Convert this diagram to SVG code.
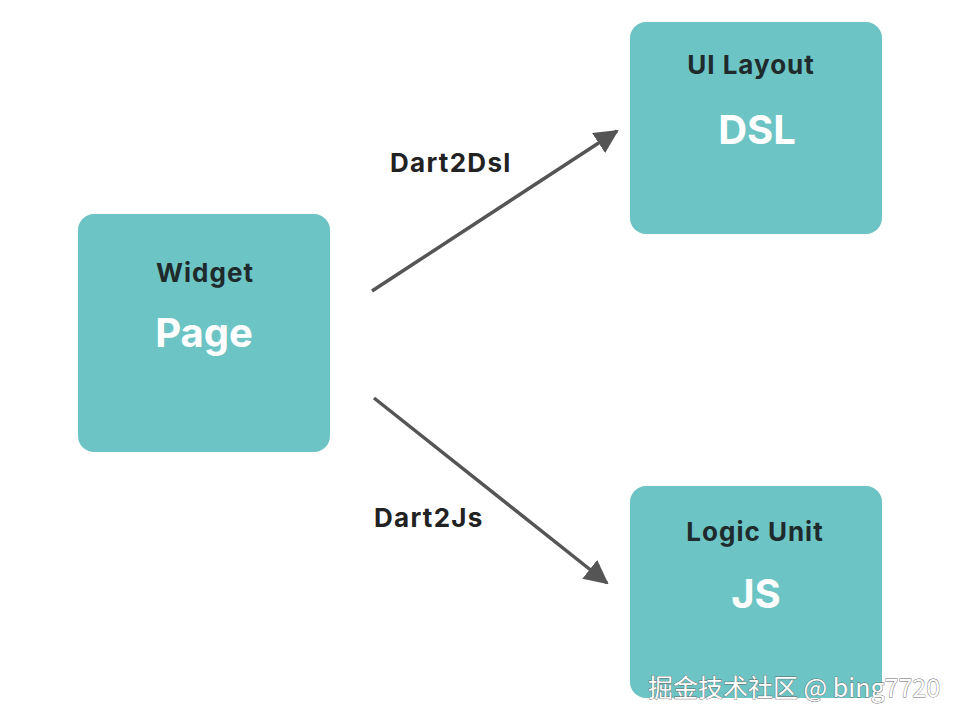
<svg xmlns="http://www.w3.org/2000/svg" width="964" height="726" viewBox="0 0 964 726">
<style>
.box{fill:#6cc4c4}
.t{font-family:Inter,"Liberation Sans",sans-serif;font-weight:700;text-anchor:middle}
.h{font-size:26px;fill:#1f2a2c;letter-spacing:1px}
.b{font-size:40px;fill:#ffffff}
.lbl{font-family:Inter,"Liberation Sans",sans-serif;font-weight:700;font-size:26px;fill:#222222;letter-spacing:1.3px}
.edge{stroke:#555555;stroke-width:3.5;fill:none}
.wm{font-family:"Noto Sans CJK SC","Noto Sans",sans-serif;font-size:25px;fill:#ffffff;stroke:#666666;stroke-width:0.8;paint-order:stroke}
</style>
<defs>
<marker id="arr" viewBox="0 0 12 12" refX="11" refY="6" markerWidth="24" markerHeight="24" markerUnits="userSpaceOnUse" orient="auto">
<path d="M0,0 L12,6 L0,12 z" fill="#555555"/>
</marker>
</defs>
<rect width="964" height="726" fill="#ffffff"/>
<g id="widget-page">
<rect class="box" x="78" y="214" width="252" height="238" rx="16"/>
<text class="t h" x="205" y="282">Widget</text>
<text class="t b" x="204" y="347">Page</text>
</g>
<g id="ui-layout-dsl">
<rect class="box" x="630" y="22" width="252" height="212" rx="16"/>
<text class="t h" x="751" y="74">UI Layout</text>
<text class="t b" x="757" y="144">DSL</text>
</g>
<g id="logic-unit-js">
<rect class="box" x="630" y="486" width="252" height="212" rx="16"/>
<text class="t h" x="755" y="541">Logic Unit</text>
<text class="t b" x="756" y="608">JS</text>
</g>
<g id="connectors">
<line class="edge" x1="372" y1="291" x2="617" y2="131" marker-end="url(#arr)"/>
<line class="edge" x1="374" y1="398" x2="607" y2="583" marker-end="url(#arr)"/>
<text class="lbl" x="390" y="172">Dart2Dsl</text>
<text class="lbl" x="374" y="527">Dart2Js</text>
</g>
<text class="wm" x="648" y="697">掘金技术社区 @ bing7720</text>
</svg>
